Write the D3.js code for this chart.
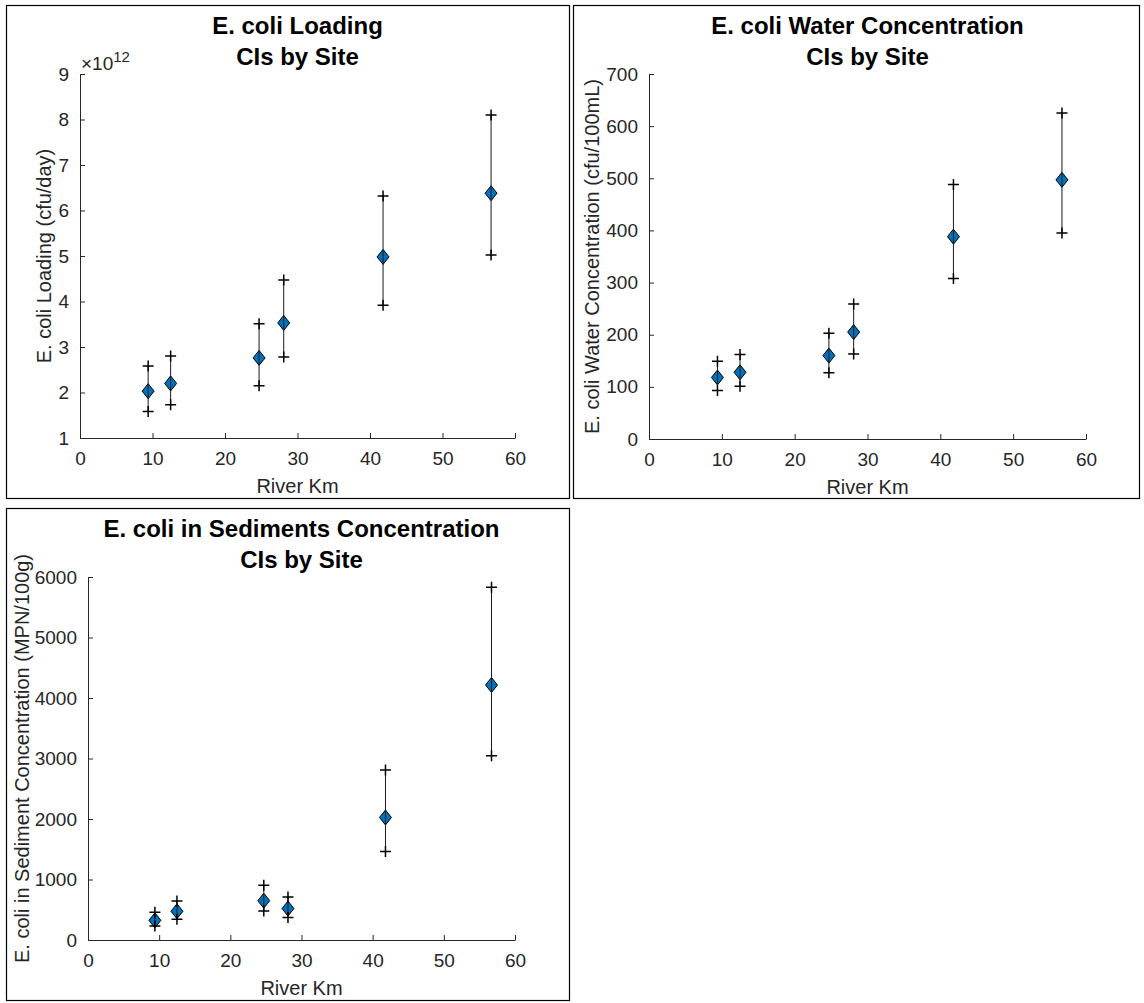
<!DOCTYPE html>
<html>
<head>
<meta charset="utf-8">
<script src="https://cdn.jsdelivr.net/npm/d3@7"></script>
<style>
  html, body { margin: 0; padding: 0; background: #fff; }
  svg { display: block; }
  text { font-family: Arial, "Liberation Sans", Helvetica, sans-serif; }
</style>
</head>
<body>
<svg id="chart" width="1144" height="1003"></svg>
<script>
// ---------- data ----------
const riverKm = [9.4, 12.5, 24.7, 28.1, 41.8, 56.7];

const loadingMean  = [2.03e12, 2.20e12, 2.76e12, 3.53e12, 4.98e12, 6.38e12];
const loadingLower = [1.58e12, 1.73e12, 2.15e12, 2.78e12, 3.92e12, 5.02e12];
const loadingUpper = [2.58e12, 2.80e12, 3.51e12, 4.47e12, 6.32e12, 8.10e12];

const waterMean  = [118, 128, 160, 205, 388, 497];
const waterLower = [93, 101, 127, 163, 308, 395];
const waterUpper = [149, 162, 203, 259, 488, 625];

const sedMean  = [325, 475, 650, 520, 2025, 4215];
const sedLower = [232, 342, 480, 370, 1462, 3046];
const sedUpper = [458, 646, 905, 712, 2810, 5830];

const xTicks = [0, 10, 20, 30, 40, 50, 60];
const loadingTicks = [1e12, 2e12, 3e12, 4e12, 5e12, 6e12, 7e12, 8e12, 9e12];
const waterTicks = [0, 100, 200, 300, 400, 500, 600, 700];
const sedTicks = [0, 1000, 2000, 3000, 4000, 5000, 6000];

const titles = [
  ["E. coli Loading", "CIs by Site"],
  ["E. coli Water Concentration", "CIs by Site"],
  ["E. coli in Sediments Concentration", "CIs by Site"]
];
const yLabels = [
  "E. coli Loading (cfu/day)",
  "E. coli Water Concentration (cfu/100mL)",
  "E. coli in Sediment Concentration (MPN/100g)"
];
const xLabel = "River Km";

// ---------- layout ----------
const panels = [
  { frame: [6, 5, 569, 498], plot: [80, 74, 515, 438], ylabX: 44,
    mean: loadingMean, lower: loadingLower, upper: loadingUpper,
    yDomain: [1e12, 9e12], yTicks: loadingTicks, yFmt: d => d / 1e12, exponent: "12" },
  { frame: [573, 5, 1139, 498], plot: [649, 74, 1086, 439], ylabX: 592,
    mean: waterMean, lower: waterLower, upper: waterUpper,
    yDomain: [0, 700], yTicks: waterTicks, yFmt: d => d },
  { frame: [6, 508, 569, 1000], plot: [88, 577, 515, 940], ylabX: 22,
    mean: sedMean, lower: sedLower, upper: sedUpper,
    yDomain: [0, 6000], yTicks: sedTicks, yFmt: d => d }
];

const axisColor = "#262626";
const markerFill = "#0072BD";
const tickFont = "19px";
const labelFont = "20px";
const titleFont = "24px";
const svg = d3.select("#chart");
svg.append("rect").attr("width", 1144).attr("height", 1003).attr("fill", "#fff");

panels.forEach((p, i) => {
  const [fx0, fy0, fx1, fy1] = p.frame;
  const [px0, py0, px1, py1] = p.plot;
  const g = svg.append("g");

  g.append("rect")
    .attr("x", fx0 + 0.5).attr("y", fy0 + 0.5)
    .attr("width", fx1 - fx0).attr("height", fy1 - fy0)
    .attr("fill", "#fff").attr("stroke", "#000").attr("stroke-width", 1.2);

  const x = d3.scaleLinear().domain([0, 60]).range([px0, px1]);
  const y = d3.scaleLinear().domain(p.yDomain).range([py1, py0]);

  const xAxis = d3.axisBottom(x).tickValues(xTicks).tickSizeInner(-5).tickSizeOuter(0).tickPadding(14);
  const yAxis = d3.axisLeft(y).tickValues(p.yTicks).tickFormat(p.yFmt).tickSizeInner(-5).tickSizeOuter(0).tickPadding(11);

  const gx = g.append("g").attr("transform", `translate(0,${py1})`).call(xAxis);
  const gy = g.append("g").attr("transform", `translate(${px0},0)`).call(yAxis);
  [gx, gy].forEach(a => {
    a.select(".domain").attr("stroke", axisColor).attr("stroke-width", 1);
    a.selectAll(".tick line").attr("stroke", axisColor).attr("stroke-width", 1);
    a.selectAll(".tick text").attr("fill", axisColor)
      .style("font-size", tickFont).style("font-family", "Arial, 'Liberation Sans', sans-serif");
  });

  // exponent label
  if (p.exponent) {
    const t = g.append("text").attr("x", px0 + 1).attr("y", py0 - 4)
      .attr("fill", axisColor).style("font-size", "19px");
    t.append("tspan").text("\u00D710");
    t.append("tspan").attr("dy", -8).style("font-size", "15px").text(p.exponent);
  }

  // titles
  const cx = (px0 + px1) / 2;
  g.append("text").attr("x", cx).attr("y", py0 - 40).attr("text-anchor", "middle")
    .style("font-size", titleFont).style("font-weight", "bold").attr("fill", "#000")
    .text(titles[i][0]);
  g.append("text").attr("x", cx).attr("y", py0 - 9).attr("text-anchor", "middle")
    .style("font-size", titleFont).style("font-weight", "bold").attr("fill", "#000")
    .text(titles[i][1]);

  // axis labels
  g.append("text").attr("x", cx).attr("y", py1 + 55).attr("text-anchor", "middle")
    .attr("fill", axisColor).style("font-size", labelFont).text(xLabel);
  g.append("text")
    .attr("transform", `translate(${p.ylabX},${(py0 + py1) / 2}) rotate(-90)`)
    .attr("dy", "0.35em").attr("text-anchor", "middle")
    .attr("fill", axisColor).style("font-size", labelFont).text(yLabels[i]);

  // data
  const data = riverKm.map((k, j) => ({ k, m: p.mean[j], lo: p.lower[j], hi: p.upper[j] }));

  // diamonds
  const hw = 6, hh = 7.5;
  g.selectAll("path.dia").data(data).enter().append("path")
    .attr("class", "dia")
    .attr("d", d => {
      const X = x(d.k), Y = y(d.m);
      return `M${X},${Y - hh}L${X + hw},${Y}L${X},${Y + hh}L${X - hw},${Y}Z`;
    })
    .attr("fill", markerFill).attr("stroke", "#000").attr("stroke-width", 1);

  // error lines
  g.selectAll("line.err").data(data).enter().append("line")
    .attr("class", "err")
    .attr("x1", d => x(d.k)).attr("x2", d => x(d.k))
    .attr("y1", d => y(d.lo)).attr("y2", d => y(d.hi))
    .attr("stroke", "#1a1a1a").attr("stroke-width", 1);

  // plus markers at CI ends
  const cs = 5.5;
  const ends = data.flatMap(d => [{ k: d.k, v: d.lo }, { k: d.k, v: d.hi }]);
  g.selectAll("path.plus").data(ends).enter().append("path")
    .attr("class", "plus")
    .attr("d", d => {
      const X = x(d.k), Y = y(d.v);
      return `M${X - cs},${Y}L${X + cs},${Y}M${X},${Y - cs}L${X},${Y + cs}`;
    })
    .attr("stroke", "#000").attr("stroke-width", 1.5).attr("fill", "none");
});
</script>
</body>
</html>
